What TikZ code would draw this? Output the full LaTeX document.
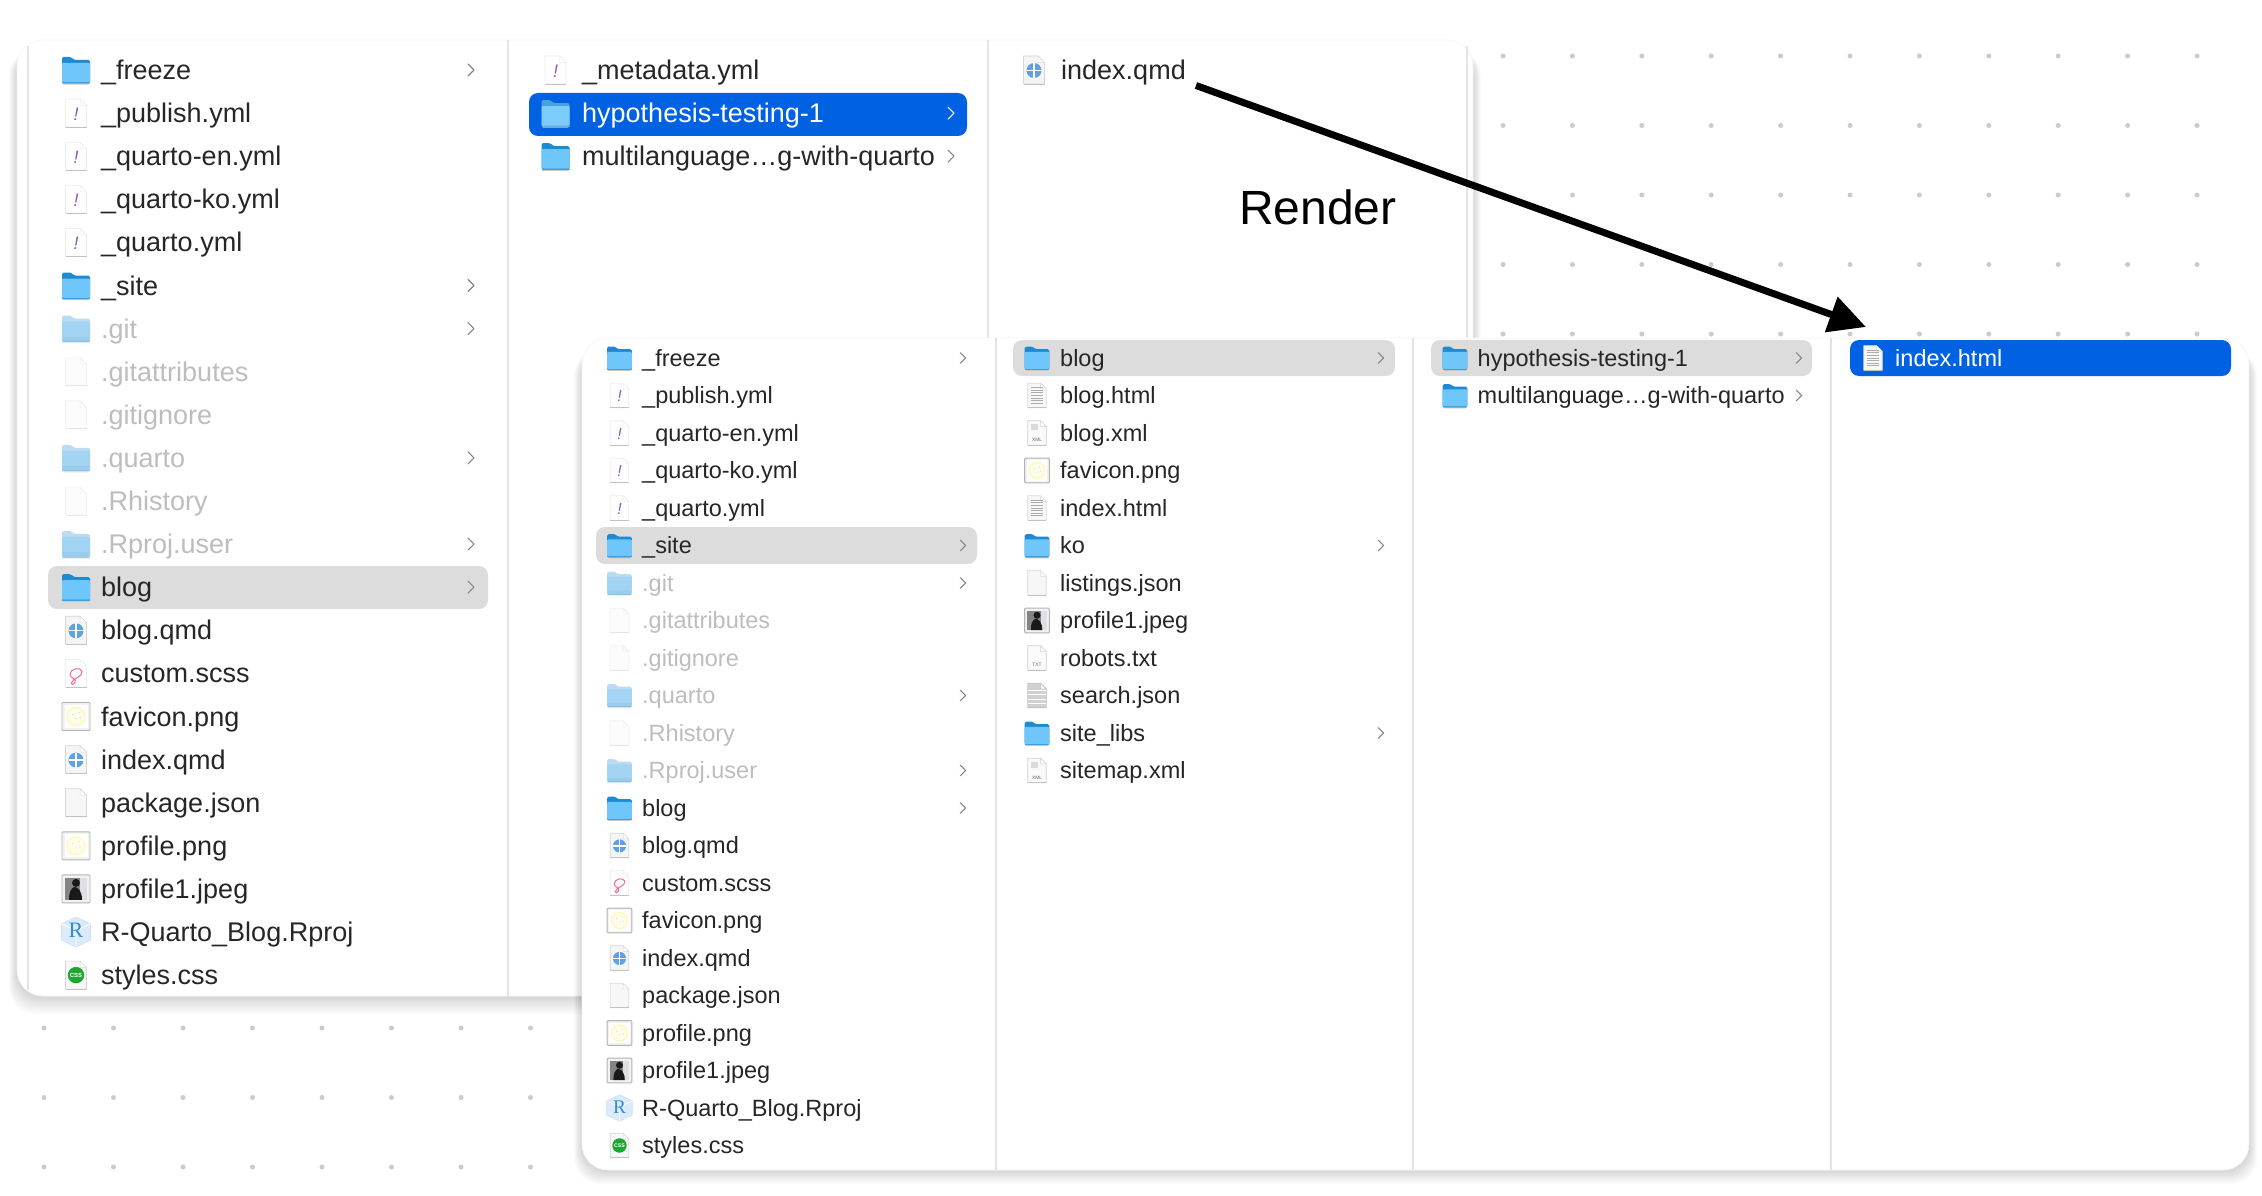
\documentclass[tikz,border=0pt]{standalone}
\usepackage{fontspec}
\setmainfont{Liberation Sans}
\newfontfamily\rprojfont{Liberation Serif}
\usetikzlibrary{arrows.meta}

\definecolor{rowtext}{HTML}{262626}
\definecolor{selgrey}{HTML}{DCDCDC}
\definecolor{selblue}{HTML}{0062E3}
\definecolor{winline}{HTML}{E4E4E4}
\definecolor{griddot}{HTML}{CBCBCB}
\definecolor{foldtab}{HTML}{1E8AD2}
\definecolor{foldbody}{HTML}{6EC6FB}
\definecolor{foldedge}{HTML}{3F9FDF}
\definecolor{ymlmauve}{HTML}{8B5AB8}
\definecolor{qmdblue}{HTML}{5EA2E4}
\definecolor{cssgreen}{HTML}{1FA531}
\definecolor{rprojblue}{HTML}{2F8DD5}
\definecolor{rprojpale}{HTML}{DCEBFB}

% icons, 28 wide, y runs downwards
\newcommand{\folderdraw}[3]{%
\fill[black!22,rounded corners=1pt] (-13.5,8)--(13.5,8)--(13.5,14.6)--(-13.5,14.6)--cycle;
\fill[#1,rounded corners=1.5pt] (-14,13.5)--(-14,-13)--(-5,-13)--(-2,-10)--(14,-10)--(14,13.5)--cycle;
\fill[#2,rounded corners=1pt] (-14,12.5)--(-14,-7)--(14,-7)--(14,12.5)--cycle;
\draw[#3,line width=1pt] (-14,13)--(14,13);
}
\newcommand{\pagedraw}[2]{%
\filldraw[fill=#1,draw=#2,line width=.7pt,line join=round] (-10.5,-14)--(4,-14)--(10.5,-7.5)--(10.5,14)--(-10.5,14)--cycle;
\filldraw[fill=white,draw=#2,line width=.5pt,line join=round] (4,-14)--(4,-7.5)--(10.5,-7.5)--cycle;
\draw[black!24,line width=.8pt] (-10.5,14)--(10.5,14);
}
\newcommand{\framedraw}{%
\filldraw[fill=black!5,draw=black!30,line width=.9pt,rounded corners=1pt] (-14,-14) rectangle (14,14);
}
\tikzset{
folderic/.pic={\folderdraw{foldtab}{foldbody}{foldedge}},
foldersel/.pic={\folderdraw{foldtab!80!white}{foldbody!90!white}{foldedge!80!white}},
blankic/.pic={\pagedraw{black!3}{black!14}},
ymlic/.pic={\pagedraw{white}{black!7}
 \node[transform shape,inner sep=0pt,text=ymlmauve,font=\fontsize{18}{18}\selectfont\itshape] (ymlmark) at (0,1) {!};},
qmdic/.pic={\pagedraw{black!4}{black!16}
 \fill[qmdblue] (0,.5) circle (7.5);
 \draw[white,line width=1.3pt] (-7.5,.5)--(7.5,.5) (0,-7)--(0,8);},
scssic/.pic={\pagedraw{white}{black!7}
 \draw[magenta!60!red!60!white,line width=1pt] (-5,10) .. controls (-3,4) and (7,4) .. (6,-2) .. controls (5,-7) and (-6,-5) .. (-6,1) .. controls (-6,5) and (1,5) .. (-1,9) .. controls (-2,11) and (-5,12) .. (-5,10);},
pngic/.pic={\framedraw
 \fill[white] (-11.5,-11.5) rectangle (11.5,11.5);
 \fill[yellow!8] (0,0) circle (9);
 \draw[orange!25!yellow!30!white,line width=1.2pt] (0,0) circle (9);
 \fill[black!14] (-3,-2) circle (.8) (3,-4) circle (.8) (0,2) circle (.8) (4,1) circle (.8);},
jpegic/.pic={\framedraw
 \fill[black!48] (-11,-11) rectangle (11,11);
 \fill[blue!12!black!12] (4,-11) rectangle (11,11);
 \fill[black!90] (-7,11) .. controls (-7,3) and (-5,0) .. (-2,-2) .. controls (2,-2) and (6,2) .. (6,11)--cycle;
 \fill[black!90] (0,-6) circle (4);},
rprojic/.pic={\filldraw[fill=rprojpale,draw=rprojblue!25,line width=.7pt] (0,-15)--(14.5,-8)--(14.5,8)--(0,15)--(-14.5,8)--(-14.5,-8)--cycle;
 \draw[white,line width=.7pt] (-14.5,-8)--(0,-1.5)--(14.5,-8) (0,-1.5)--(0,15);
 \node[transform shape,inner sep=0pt,text=rprojblue,font=\fontsize{22}{22}\selectfont\rprojfont] (rmark) at (0,-1.5) {R};},
cssic/.pic={\pagedraw{black!3}{black!16}
 \fill[cssgreen] (0,0) circle (8.2);
 \node[transform shape,inner sep=0pt,text=white,font=\fontsize{6}{6}\selectfont\bfseries] (cssmark) at (0,0) {CSS};},
htmlic/.pic={\pagedraw{black!3}{black!14}
 \foreach \ly in {-9,-6,...,11} {\draw[black!32,line width=1pt] (-7,\ly)--(7,\ly);}},
searchic/.pic={\pagedraw{black!18}{black!24}
 \foreach \ly in {-6,-1,4,9} {\draw[white,line width=.8pt] (-10.5,\ly)--(10.5,\ly);}},
txtic/.pic={\pagedraw{black!2}{black!18}
 \node[transform shape,inner sep=0pt,text=black!60,font=\fontsize{5.5}{5.5}\selectfont] (txtmark) at (0,8) {TXT};},
xmlic/.pic={\pagedraw{black!2}{black!18}
 \fill[black!14] (-7,-10) rectangle (1,-3);
 \node[transform shape,inner sep=0pt,text=black!60,font=\fontsize{5.5}{5.5}\selectfont] (xmlmark) at (0,8) {XML};},
chev/.pic={\draw[black!48,line width=1.1pt,line cap=round,line join=round] (-3,-6)--(3,0)--(-3,6);},
chevsel/.pic={\draw[white,line width=1.1pt,line cap=round,line join=round] (-3,-6)--(3,0)--(-3,6);},
nochev/.pic={},
plainrow/.style={},
faderow/.style={opacity=.3},
selrow/.style={text=white},
bigrows/.style={rowlabel/.style={anchor=base west,inner sep=0pt,text=rowtext,yshift=-9.5pt,font=\fontsize{27}{27}\selectfont}},
smallrows/.style={every pic/.style={scale=.88},rowlabel/.style={anchor=base west,inner sep=0pt,text=rowtext,yshift=-8pt,font=\fontsize{23.5}{23.5}\selectfont}},
selband/.style={rounded corners=9pt},
winshade/.style={black,opacity=.017,rounded corners=26pt},
winface/.style={fill=white,draw=black!4,line width=.7pt,rounded corners=26pt},
}
% prefix, icon x, text x, chevron x, first row y, row step, rows
\newcommand{\filecol}[7]{%
\foreach \ic/\txt/\chv/\sty [count=\k from 0] in {#7} {
\pgfmathsetmacro{\yy}{#5+\k*#6}
\pic[\sty] at (#2,\yy) {\ic};
\node[rowlabel,\sty] (#1\k) at (#3,\yy) {\txt};
\pic at (#4,\yy) {\chv};
}}

\begin{document}
\begin{tikzpicture}[x=1pt,y=-1pt]
\useasboundingbox[fill=white] (0,0) rectangle (2262,1196);
%dots
\foreach \cx in {0,...,10} \foreach \ry in {0,...,4}
 \fill[griddot] ({1503+69.4*\cx},{56+69.5*\ry}) circle (2.5);
\foreach \cx in {0,...,7} \foreach \ry in {0,...,2}
 \fill[griddot] ({44+69.5*\cx},{1028+69.5*\ry}) circle (2.5);
%back window
\foreach \s in {1,...,10}
 \fill[winshade] ({17-.8*\s},{50}) rectangle ({1473+.8*\s},{996+1.8*\s});
\filldraw[winface] (17,40) rectangle (1473,996);
\draw[winline,line width=1.4pt] (28,46)--(28,990) (508,40)--(508,996) (988,40)--(988,996) (1467,46)--(1467,990);
\fill[selgrey,selband] (48,566) rectangle (488,609);
\fill[selblue,selband] (529,93) rectangle (967,136);
\begin{scope}[bigrows]
\filecol{bigA}{76}{101}{471}{70}{43.1}{
folderic/\_freeze/chev/plainrow,
ymlic/\_publish.yml/nochev/plainrow,
ymlic/\_quarto-en.yml/nochev/plainrow,
ymlic/\_quarto-ko.yml/nochev/plainrow,
ymlic/\_quarto.yml/nochev/plainrow,
folderic/\_site/chev/plainrow,
folderic/.git/chev/faderow,
blankic/.gitattributes/nochev/faderow,
blankic/.gitignore/nochev/faderow,
folderic/.quarto/chev/faderow,
blankic/.Rhistory/nochev/faderow,
folderic/.Rproj.user/chev/faderow,
folderic/blog/chev/plainrow,
qmdic/blog.qmd/nochev/plainrow,
scssic/custom.scss/nochev/plainrow,
pngic/favicon.png/nochev/plainrow,
qmdic/index.qmd/nochev/plainrow,
blankic/package.json/nochev/plainrow,
pngic/profile.png/nochev/plainrow,
jpegic/profile1.jpeg/nochev/plainrow,
rprojic/R-Quarto\_Blog.Rproj/nochev/plainrow,
cssic/styles.css/nochev/plainrow}
\filecol{bigB}{555.5}{582}{951}{70}{43.1}{
ymlic/\_metadata.yml/nochev/plainrow,
foldersel/hypothesis-testing-1/chevsel/selrow,
folderic/multilanguage…g-with-quarto/chev/plainrow}
\filecol{bigC}{1034}{1061}{1400}{70}{43.1}{
qmdic/index.qmd/nochev/plainrow}
\end{scope}
%front window
\foreach \s in {1,...,10}
 \fill[winshade] ({582-.8*\s},{350}) rectangle ({2249+.8*\s},{1170+1.4*\s});
\filldraw[winface] (582,338) rectangle (2249,1170);
\draw[winline,line width=1.4pt] (996,338)--(996,1170) (1413,338)--(1413,1170) (1831,338)--(1831,1170);
\fill[selgrey,selband] (596,527) rectangle (977,564);
\fill[selgrey,selband] (1013,340) rectangle (1395,376);
\fill[selgrey,selband] (1431,340) rectangle (1812,376);
\fill[selblue,selband] (1850,340) rectangle (2231,376);
\begin{scope}[smallrows]
\filecol{smallA}{619.5}{642}{963}{358}{37.5}{
folderic/\_freeze/chev/plainrow,
ymlic/\_publish.yml/nochev/plainrow,
ymlic/\_quarto-en.yml/nochev/plainrow,
ymlic/\_quarto-ko.yml/nochev/plainrow,
ymlic/\_quarto.yml/nochev/plainrow,
folderic/\_site/chev/plainrow,
folderic/.git/chev/faderow,
blankic/.gitattributes/nochev/faderow,
blankic/.gitignore/nochev/faderow,
folderic/.quarto/chev/faderow,
blankic/.Rhistory/nochev/faderow,
folderic/.Rproj.user/chev/faderow,
folderic/blog/chev/plainrow,
qmdic/blog.qmd/nochev/plainrow,
scssic/custom.scss/nochev/plainrow,
pngic/favicon.png/nochev/plainrow,
qmdic/index.qmd/nochev/plainrow,
blankic/package.json/nochev/plainrow,
pngic/profile.png/nochev/plainrow,
jpegic/profile1.jpeg/nochev/plainrow,
rprojic/R-Quarto\_Blog.Rproj/nochev/plainrow,
cssic/styles.css/nochev/plainrow}
\filecol{smallB}{1037}{1060}{1381}{358}{37.5}{
folderic/blog/chev/plainrow,
htmlic/blog.html/nochev/plainrow,
xmlic/blog.xml/nochev/plainrow,
pngic/favicon.png/nochev/plainrow,
htmlic/index.html/nochev/plainrow,
folderic/ko/chev/plainrow,
blankic/listings.json/nochev/plainrow,
jpegic/profile1.jpeg/nochev/plainrow,
txtic/robots.txt/nochev/plainrow,
searchic/search.json/nochev/plainrow,
folderic/site\_libs/chev/plainrow,
xmlic/sitemap.xml/nochev/plainrow}
\filecol{smallC}{1455}{1477.5}{1799}{358}{37.5}{
folderic/hypothesis-testing-1/chev/plainrow,
folderic/multilanguage…g-with-quarto/chev/plainrow}
\filecol{smallD}{1873}{1895}{2200}{358}{37.5}{
htmlic/index.html/nochev/selrow}
\end{scope}
%arrow
\node[anchor=base west,inner sep=0pt,text=black,font=\fontsize{48}{48}\selectfont] (rendertag) at (1239,224) {Render};
\coordinate (renderfrom) at ([xshift=10pt,yshift=-6pt]bigC0.base east);
\coordinate (renderto) at ([xshift=-29pt,yshift=39pt]smallD0.base west);
\draw[line width=7pt,-{Triangle[length=37pt,width=36pt]}] (renderfrom)--(renderto);
\end{tikzpicture}
\end{document}
